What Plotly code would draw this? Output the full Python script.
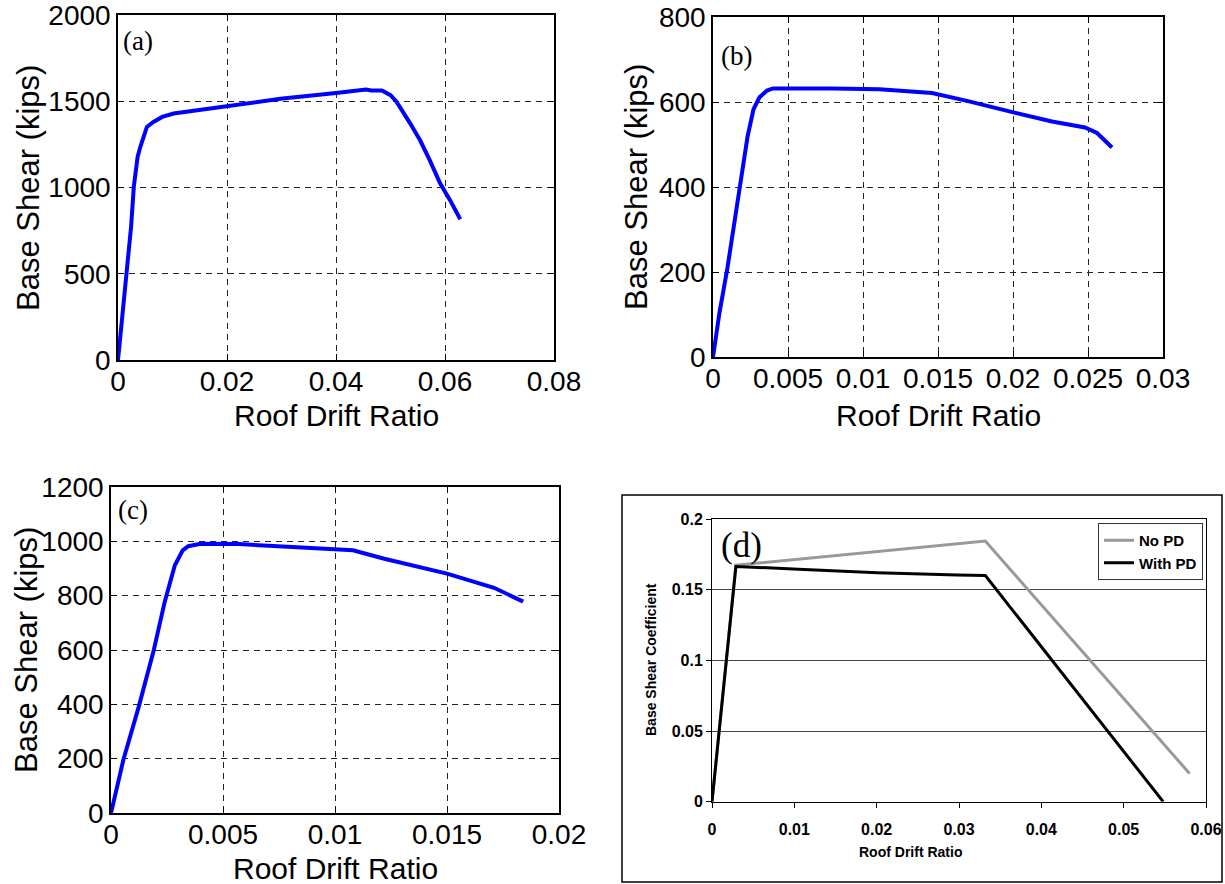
import plotly.graph_objects as go

# ---------------- data ----------------
# (a)
a_x = [0, 0.0015, 0.0024, 0.0029, 0.0036, 0.0041, 0.0053, 0.0065, 0.0081, 0.0102,
       0.02, 0.0298, 0.04, 0.0445, 0.0455, 0.0465, 0.0484, 0.0500, 0.0511, 0.0536,
       0.0554, 0.0572, 0.0591, 0.0609, 0.0628]
a_y = [0, 500, 772, 1004, 1178, 1236, 1351, 1380, 1409, 1429,
       1471, 1514, 1548, 1566, 1568, 1562, 1562, 1535, 1497, 1372,
       1275, 1159, 1024, 928, 816]
a_xticks = [0, 0.02, 0.04, 0.06, 0.08]
a_xlabels = ["0", "0.02", "0.04", "0.06", "0.08"]
a_yticks = [0, 500, 1000, 1500, 2000]
a_ylabels = ["0", "500", "1000", "1500", "2000"]

# (b)
b_x = [0, 0.00043, 0.00096, 0.0018, 0.0023, 0.0027, 0.0031, 0.0036, 0.004, 0.008,
       0.0111, 0.0146, 0.017, 0.0201, 0.0226, 0.0248, 0.0256, 0.0266]
b_y = [0, 104, 209, 396, 518, 583, 611, 627, 632, 632,
       630, 621, 602, 575, 554, 540, 527, 493]
b_xticks = [0, 0.005, 0.01, 0.015, 0.02, 0.025, 0.03]
b_xlabels = ["0", "0.005", "0.01", "0.015", "0.02", "0.025", "0.03"]
b_yticks = [0, 200, 400, 600, 800]
b_ylabels = ["0", "200", "400", "600", "800"]

# (c)
c_x = [0, 0.00055, 0.00123, 0.0019, 0.0024, 0.00285, 0.0032, 0.00345, 0.004, 0.0057,
       0.0081, 0.0108, 0.0122, 0.015, 0.0171, 0.018, 0.0184]
c_y = [0, 195, 389, 596, 778, 912, 967, 982, 991, 990,
       979, 967, 936, 881, 829, 796, 778]
c_xticks = [0, 0.005, 0.01, 0.015, 0.02]
c_xlabels = ["0", "0.005", "0.01", "0.015", "0.02"]
c_yticks = [0, 200, 400, 600, 800, 1000, 1200]
c_ylabels = ["0", "200", "400", "600", "800", "1000", "1200"]

# (d)
d_nopd_x = [0, 0.0029, 0.0332, 0.0580]
d_nopd_y = [0, 0.1673, 0.1844, 0.0200]
d_withpd_x = [0, 0.0029, 0.0105, 0.0201, 0.0298, 0.0332, 0.0548]
d_withpd_y = [0, 0.1664, 0.1645, 0.1620, 0.1604, 0.1600, 0.0]
d_xticks = [0, 0.01, 0.02, 0.03, 0.04, 0.05, 0.06]
d_xlabels = ["0", "0.01", "0.02", "0.03", "0.04", "0.05", "0.06"]
d_yticks = [0, 0.05, 0.1, 0.15, 0.2]
d_ylabels = ["0", "0.05", "0.1", "0.15", "0.2"]

W, H = 1225, 884


def px(x):
    return x / W


def py(y):
    return 1 - y / H


BLUE = "#0000FF"
SANS = "Liberation Sans, Arial, sans-serif"
SERIF = "Liberation Serif, Times New Roman, serif"

fig = go.Figure()
fig.add_trace(go.Scatter(x=a_x, y=a_y, mode="lines", line=dict(color=BLUE, width=4),
                         xaxis="x", yaxis="y", showlegend=False))
fig.add_trace(go.Scatter(x=b_x, y=b_y, mode="lines", line=dict(color=BLUE, width=4),
                         xaxis="x2", yaxis="y2", showlegend=False))
fig.add_trace(go.Scatter(x=c_x, y=c_y, mode="lines", line=dict(color=BLUE, width=4),
                         xaxis="x3", yaxis="y3", showlegend=False))
fig.add_trace(go.Scatter(x=d_nopd_x, y=d_nopd_y, mode="lines", name="No PD",
                         line=dict(color="#999999", width=3), xaxis="x4", yaxis="y4"))
fig.add_trace(go.Scatter(x=d_withpd_x, y=d_withpd_y, mode="lines", name="With PD",
                         line=dict(color="#000000", width=3), xaxis="x4", yaxis="y4"))


def matlab_axis(domain, rng, tv, tt, anchor, standoff=0):
    return dict(domain=domain, range=rng, tickvals=tv, ticktext=tt, anchor=anchor,
                automargin=False, ticklabeloverflow="allow", ticklabelstandoff=standoff,
                showline=True, linecolor="black", linewidth=1.5, mirror="ticks",
                ticks="inside", ticklen=6, tickcolor="black",
                showgrid=True, gridcolor="#222222", gridwidth=1, griddash="6px,5px",
                zeroline=False, tickfont=dict(family=SANS, size=28, color="black"),
                fixedrange=True)


lay = dict(width=W, height=H, margin=dict(l=0, r=0, t=0, b=0, pad=0, autoexpand=False),
           autosize=False, template="none",
           paper_bgcolor="white", plot_bgcolor="white")

lay["xaxis"] = matlab_axis([px(118), px(554)], [0, 0.08], a_xticks, a_xlabels, "y", -4)
lay["yaxis"] = matlab_axis([py(360), py(15)], [0, 2000], a_yticks, a_ylabels, "x")
lay["xaxis2"] = matlab_axis([px(713), px(1163)], [0, 0.03], b_xticks, b_xlabels, "y2", -4)
lay["yaxis2"] = matlab_axis([py(357), py(17)], [0, 800], b_yticks, b_ylabels, "x2")
lay["xaxis3"] = matlab_axis([px(111), px(559)], [0, 0.02], c_xticks, c_xlabels, "y3", -4)
lay["yaxis3"] = matlab_axis([py(813), py(487)], [0, 1200], c_yticks, c_ylabels, "x3")

lay["xaxis4"] = dict(domain=[px(712), px(1206)], range=[0, 0.06], tickvals=d_xticks,
                     ticktext=d_xlabels, anchor="y4", showline=True, linecolor="black",
                     linewidth=1, mirror=True, ticks="outside", ticklen=5,
                     tickcolor="black", showgrid=False, zeroline=False, automargin=False,
                     ticklabeloverflow="allow",
                     tickfont=dict(family=SANS, size=16, color="black", weight="bold"),
                     ticklabelstandoff=8, fixedrange=True)
lay["yaxis4"] = dict(domain=[py(801.7), py(519)], range=[0, 0.2], tickvals=d_yticks,
                     ticktext=d_ylabels, anchor="x4", showline=True, linecolor="black",
                     linewidth=1, mirror=True, ticks="outside", ticklen=5,
                     tickcolor="black", showgrid=True, gridcolor="#444444", gridwidth=1,
                     zeroline=False, automargin=False, ticklabeloverflow="allow",
                     tickfont=dict(family=SANS, size=16, color="black", weight="bold"),
                     fixedrange=True)

lay["legend"] = dict(x=px(1203), xanchor="right", y=py(523), yanchor="top",
                     bgcolor="white", bordercolor="#333333", borderwidth=1,
                     font=dict(family=SANS, size=15, color="black", weight="bold"),
                     tracegroupgap=0, itemwidth=30)

ann = []


def text(x, y, s, size, family=SANS, angle=0, weight="normal", xanchor="center"):
    ann.append(dict(x=px(x), y=py(y), xref="paper", yref="paper", text=s,
                    showarrow=False, textangle=angle, xanchor=xanchor, yanchor="middle",
                    font=dict(family=family, size=size, color="black", weight=weight)))


# axis titles
text(28, 188, "Base Shear (kips)", 31, angle=-90)
text(336, 415, "Roof Drift Ratio", 30)
text(636, 187, "Base Shear (kips)", 31, angle=-90)
text(938, 415, "Roof Drift Ratio", 30)
text(26, 650, "Base Shear (kips)", 31, angle=-90)
text(335, 868, "Roof Drift Ratio", 30)
text(651, 660, "Base Shear Coefficient", 14, angle=-90, weight="bold")
text(910, 852, "Roof Drift Ratio", 14, weight="bold")

# panel labels
text(121, 41, "(a)", 27, family=SERIF, xanchor="left")
text(719, 56, "(b)", 27, family=SERIF, xanchor="left")
text(116, 510, "(c)", 27, family=SERIF, xanchor="left")
text(719, 545, "(d)", 35, family=SERIF, xanchor="left")

lay["annotations"] = ann
lay["shapes"] = [dict(type="rect", xref="paper", yref="paper",
                      x0=px(622), x1=px(1222), y0=py(882), y1=py(495),
                      line=dict(color="black", width=1.5), fillcolor="rgba(0,0,0,0)")]

fig.update_layout(**lay)
fig.write_html("out.html")
